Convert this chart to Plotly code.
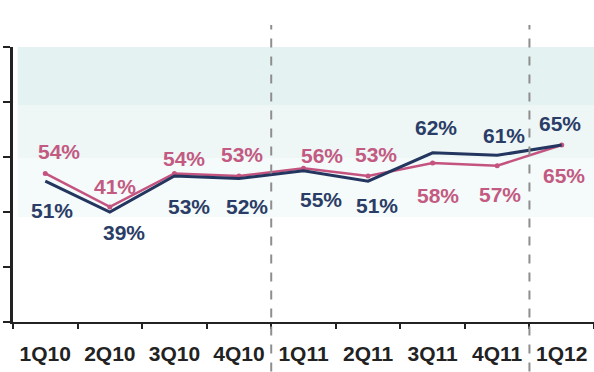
import plotly.graph_objects as go

quarters = ["1Q10", "2Q10", "3Q10", "4Q10", "1Q11", "2Q11", "3Q11", "4Q11", "1Q12"]
navy_vals = [51, 39, 53, 52, 55, 51, 62, 61, 65]
pink_vals = [54, 41, 54, 53, 56, 53, 58, 57, 65]

NAVY = "#23365f"
PINK = "#c4547f"
NAVY_TXT = "#2a3d66"
PINK_TXT = "#c25a82"

# label offsets in pixels (dx, dy) for each point
pink_off = [(14, 22), (5, 20), (10, 15), (3, 21), (18, 13), (8, 21), (5, -32), (3, -29), (2, -30)]
navy_off = [(7, -29), (14, -20), (15, -31), (8, -28), (17, -29), (9, -24), (3, 25), (7, 20), (-2, 22)]

Y_RANGE = [-3.6, 103]

fig = go.Figure()

# shaded band along the top of the plot, fading downward
fig.add_shape(type="rect", xref="paper", yref="y", x0=0.008, x1=1, y0=37, y1=60,
              fillcolor="#f5fafa", line_width=0, layer="below")
fig.add_shape(type="rect", xref="paper", yref="y", x0=0.008, x1=1, y0=60, y1=80.5,
              fillcolor="#eef6f6", line_width=0, layer="below")
fig.add_shape(type="rect", xref="paper", yref="y", x0=0.008, x1=1, y0=80.5, y1=Y_RANGE[1],
              fillcolor="#e5f2f2", line_width=0, layer="below")

# year dividers
for xv in [3.5, 7.5]:
    fig.add_shape(type="line", xref="x", yref="paper", x0=xv, x1=xv, y0=-0.18, y1=1.08,
                  line=dict(color="#8e8e8e", width=2, dash="dash"))

fig.add_trace(go.Scatter(x=quarters, y=pink_vals, mode="lines+markers",
                         line=dict(color=PINK, width=2.5),
                         marker=dict(color=PINK, size=5), showlegend=False))
fig.add_trace(go.Scatter(x=quarters, y=navy_vals, mode="lines",
                         line=dict(color=NAVY, width=3), showlegend=False))

for i, q in enumerate(quarters):
    dx, dy = pink_off[i]
    fig.add_annotation(x=i, y=pink_vals[i], text=f"{pink_vals[i]}%", showarrow=False,
                       xshift=dx, yshift=dy,
                       font=dict(family="Liberation Sans", size=21, color=PINK_TXT, weight="bold"))
    dx, dy = navy_off[i]
    fig.add_annotation(x=i, y=navy_vals[i], text=f"{navy_vals[i]}%", showarrow=False,
                       xshift=dx, yshift=dy,
                       font=dict(family="Liberation Sans", size=21, color=NAVY_TXT, weight="bold"))

fig.update_layout(
    width=594, height=372,
    margin=dict(l=13, r=0, t=47, b=50),
    paper_bgcolor="white", plot_bgcolor="white",
    xaxis=dict(type="category", range=[-0.5, 8.5], showgrid=False, zeroline=False,
               showline=True, linecolor="#222", linewidth=2,
               ticks="outside", tickson="boundaries", ticklen=5, tickwidth=2, tickcolor="#222",
               ticklabelstandoff=12,
               tickfont=dict(family="Liberation Sans", size=21, color="#222", weight="bold")),
    yaxis=dict(range=Y_RANGE, showgrid=False, zeroline=False,
               showline=True, linecolor="#222", linewidth=2.5,
               ticks="outside", ticklen=7, tickwidth=2, tickcolor="#222",
               tickvals=[Y_RANGE[0] + k * (Y_RANGE[1] - Y_RANGE[0]) / 5 for k in range(6)],
               showticklabels=False),
)

fig.write_html("out.html")
